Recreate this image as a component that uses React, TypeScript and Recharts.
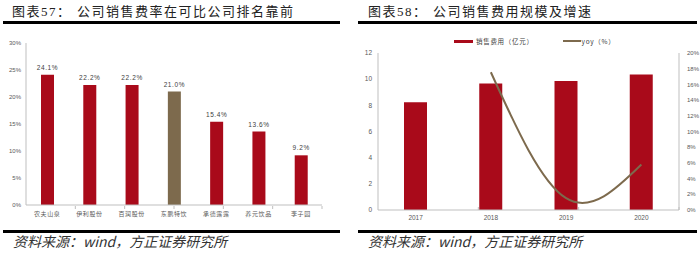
import React from 'react';
import {
  BarChart, Bar, XAxis, YAxis, Cell, LabelList, ComposedChart, Line, Legend,
} from 'recharts';

// ---- Left chart data ----
const companies = ['农夫山泉', '伊利股份', '百润股份', '东鹏特饮', '承德露露', '养元饮品', '李子园'];
const salesRatio = [24.1, 22.2, 22.2, 21.0, 15.4, 13.6, 9.2];
const highlightCompany = '东鹏特饮';
const ratioTicks = [0, 5, 10, 15, 20, 25, 30];
const companyBoundaries = [1, 2, 3, 4, 5, 6];

// ---- Right chart data ----
const years = ['2017', '2018', '2019', '2020'];
const salesExpense = [8.24, 9.67, 9.86, 10.36];
const yoyGrowth: (number | null)[] = [null, 17.55, 1.5, 5.8];
const expenseTicks = [0, 2, 4, 6, 8, 10, 12];
const yoyTicks = [0, 2, 4, 6, 8, 10, 12, 14, 16, 18, 20];
const yearBoundaries = [1, 2, 3];

const leftData = companies.map((name, i) => ({ name, value: salesRatio[i] }));
const rightData = years.map((year, i) => ({ year, sales: salesExpense[i], yoy: yoyGrowth[i] }));

const RED = '#A90A1A';
const BROWN = '#7D6A4D';
const AXIS = '#BFBFBF';
const TICK = '#595959';
const CJK = '"Noto Sans CJK SC", "Liberation Sans", sans-serif';
const TITLE_FONT = '"Liberation Serif", "Noto Sans CJK SC", serif';

const rule = (left: number, top: number, width: number): React.CSSProperties => ({
  position: 'absolute', left, top, width, height: 3, background: '#000',
});

const titleStyle: React.CSSProperties = {
  position: 'absolute', top: 5, fontSize: 13, lineHeight: '14px', color: '#222',
  fontFamily: TITLE_FONT, letterSpacing: 1.5, whiteSpace: 'nowrap',
};

const sourceStyle: React.CSSProperties = {
  position: 'absolute', top: 234, fontSize: 14, lineHeight: '15px', color: '#333',
  fontFamily: CJK, fontStyle: 'italic', whiteSpace: 'nowrap',
};

const RightLegend = (props: any) => {
  const payload = [...(props.payload || [])].sort(
    (a: any, b: any) => (a.type === 'line' ? 1 : 0) - (b.type === 'line' ? 1 : 0),
  );
  return (
    <div style={{ display: 'flex', alignItems: 'center', fontFamily: CJK, fontSize: 6.5, color: '#404040', whiteSpace: 'nowrap' }}>
      {payload.map((p: any, i: number) => (
        <div key={i} style={{ display: 'flex', alignItems: 'center', marginRight: i === 0 ? 29 : 0 }}>
          {p.type === 'line' ? (
            <div style={{ width: 18, height: 2, background: p.color, marginRight: 1 }} />
          ) : (
            <div style={{ width: 19, height: 3, background: p.color, marginRight: 3 }} />
          )}
          <span style={{ letterSpacing: 0.7 }}>{p.value}</span>
        </div>
      ))}
    </div>
  );
};

export default function App() {
  return (
    <div style={{ position: 'absolute', left: 0, top: 0, width: 700, height: 254, background: '#fff', overflow: 'hidden' }}>
      {/* Left panel */}
      <div style={{ ...titleStyle, left: 12 }}>图表57：</div>
      <div style={{ ...titleStyle, left: 77 }}>公司销售费率在可比公司排名靠前</div>
      <div style={rule(3, 21, 337)} />
      <div style={{ position: 'absolute', left: 0, top: 0 }}>
        <BarChart width={340} height={230} data={leftData} margin={{ top: 43, right: 18, bottom: 23, left: 0 }}>
          <YAxis
            width={26}
            domain={[0, 30]}
            ticks={ratioTicks}
            interval={0}
            tickFormatter={(v: number) => `${v}%`}
            axisLine={{ stroke: AXIS }}
            tickLine={false}
            tickSize={3}
            tickMargin={2}
            tick={{ fontSize: 6, fill: TICK, fontFamily: '"Liberation Sans", sans-serif' }}
          />
          <XAxis
            dataKey="name"
            height={1}
            interval={0}
            axisLine={{ stroke: AXIS }}
            tickLine={false}
            tickSize={3}
            tickMargin={4}
            tick={{ fontSize: 6, fill: TICK, fontFamily: CJK, letterSpacing: 0.6 }}
          />
          <XAxis
            xAxisId="bounds"
            type="number"
            domain={[0, companies.length]}
            ticks={companyBoundaries}
            interval={0}
            height={1}
            axisLine={false}
            tickLine={{ stroke: AXIS }}
            tickSize={3}
            tickFormatter={() => ''}
          />
          <Bar dataKey="value" barSize={13} isAnimationActive={false}>
            {leftData.map((d) => (
              <Cell key={d.name} fill={d.name === highlightCompany ? BROWN : RED} />
            ))}
            <LabelList
              dataKey="value"
              position="top"
              offset={5}
              formatter={(v: any) => `${Number(v).toFixed(1)}%`}
              style={{ fontSize: 6.5, fill: '#404040', fontFamily: '"Liberation Sans", sans-serif', letterSpacing: 0.6 }}
            />
          </Bar>
        </BarChart>
      </div>
      <div style={{ ...sourceStyle, left: 13 }}>资料来源：wind，方正证券研究所</div>
      <div style={rule(3, 230, 337)} />

      {/* Right panel */}
      <div style={{ ...titleStyle, left: 368 }}>图表58：</div>
      <div style={{ ...titleStyle, left: 433 }}>公司销售费用规模及增速</div>
      <div style={rule(358, 21, 339)} />
      <div style={{ position: 'absolute', left: 350, top: 0 }}>
        <ComposedChart width={350} height={230} data={rightData} margin={{ top: 43, right: 0, bottom: 19, left: 0 }}>
          <YAxis
            yAxisId="left"
            width={28}
            domain={[0, 12]}
            ticks={expenseTicks}
            interval={0}
            axisLine={{ stroke: AXIS }}
            tickLine={false}
            tickSize={4}
            tickMargin={2}
            tick={{ fontSize: 6.5, fill: TICK, fontFamily: '"Liberation Sans", sans-serif' }}
          />
          <YAxis
            yAxisId="right"
            orientation="right"
            width={21}
            domain={[0, 20]}
            ticks={yoyTicks}
            interval={0}
            tickFormatter={(v: number) => `${v}%`}
            axisLine={{ stroke: AXIS }}
            tickLine={false}
            tickSize={6}
            tickMargin={2}
            tick={{ fontSize: 6, fill: TICK, fontFamily: '"Liberation Sans", sans-serif' }}
          />
          <XAxis
            dataKey="year"
            height={1}
            interval={0}
            axisLine={{ stroke: AXIS }}
            tickLine={false}
            tickSize={2}
            tickMargin={3}
            tick={{ fontSize: 6.5, fill: TICK, fontFamily: '"Liberation Sans", sans-serif' }}
          />
          <XAxis
            xAxisId="bounds"
            type="number"
            domain={[0, years.length]}
            ticks={yearBoundaries}
            interval={0}
            height={1}
            mirror
            axisLine={false}
            tickLine={{ stroke: AXIS }}
            tickSize={3}
            tickFormatter={() => ''}
          />
          <Legend
            verticalAlign="top"
            align="left"
            wrapperStyle={{ position: 'absolute', left: 104, top: 36, width: 'auto' }}
            content={<RightLegend />}
          />
          <Bar yAxisId="left" dataKey="sales" name="销售费用（亿元）" fill={RED} barSize={23} isAnimationActive={false} legendType="rect" />
          <Line
            yAxisId="right"
            dataKey="yoy"
            name="yoy（%）"
            type="natural"
            stroke={BROWN}
            strokeWidth={2}
            dot={false}
            activeDot={false}
            legendType="line"
            isAnimationActive={false}
          />
        </ComposedChart>
      </div>
      <div style={{ ...sourceStyle, left: 368 }}>资料来源：wind，方正证券研究所</div>
      <div style={rule(358, 230, 339)} />
    </div>
  );
}
